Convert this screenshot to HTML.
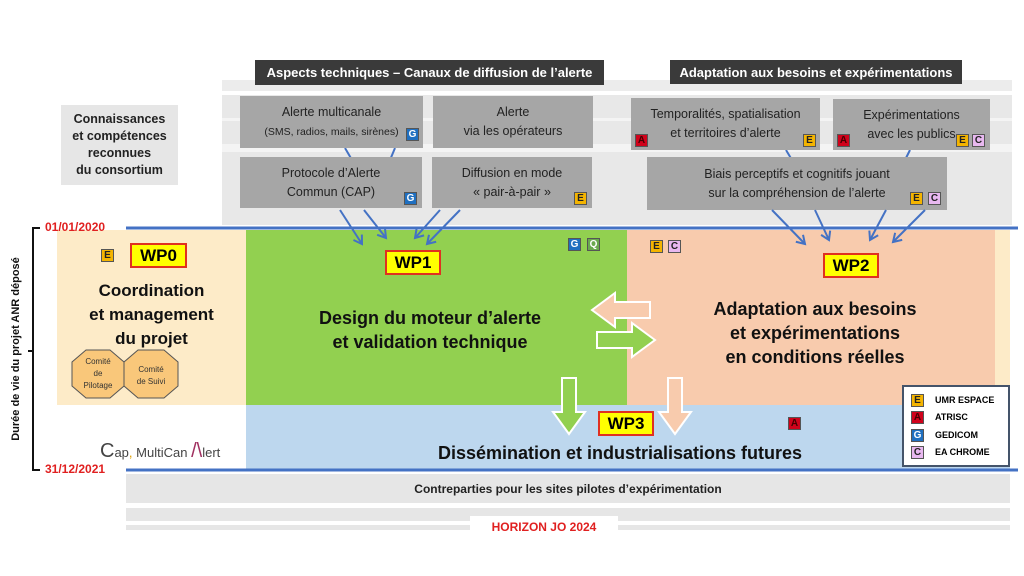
<!DOCTYPE html>
<html><head><meta charset="utf-8"><style>
body{margin:0;width:1024px;height:576px;background:#fff;position:relative;overflow:hidden;font-family:"Liberation Sans",sans-serif;}
div{position:absolute;box-sizing:border-box;}
.c{display:flex;align-items:center;justify-content:center;text-align:center;}
.c>p{margin:0;}
.g{background:#a6a6a6;color:#222;font-size:12.5px;line-height:19px;}
.b{width:13px;height:13px;font-size:10px;font-weight:bold;display:flex;align-items:center;justify-content:center;border:1px solid #555;}
.E{background:#f4b400;color:#222}.A{background:#d0021b;color:#400}.G{background:#1f6fc0;color:#fff}.C{background:#e8b8f0;color:#222}.Q{background:#6aa84f;color:#fff}
.wp{background:#ffff00;border:2px solid #e03020;font-weight:bold;font-size:17px;}
.big{font-weight:bold;color:#111;font-size:18px;line-height:24px;}
</style></head><body>
<div style="left:222px;top:80px;width:790px;height:11px;background:#ececec"></div>
<div style="left:222px;top:95px;width:790px;height:130px;background:#e8e8e8"></div>
<div style="left:222px;top:118px;width:790px;height:3px;background:#f4f4f4"></div>
<div style="left:222px;top:144px;width:790px;height:8px;background:#f4f4f4"></div>
<div class="c" style="left:255px;top:60px;width:349px;height:25px;background:#3a3a3a;color:#fff;font-weight:bold;font-size:13px">Aspects techniques – Canaux de diffusion de l’alerte</div>
<div class="c" style="left:670px;top:60px;width:292px;height:24px;background:#3a3a3a;color:#fff;font-weight:bold;font-size:13px">Adaptation aux besoins et expérimentations</div>
<div class="c" style="left:61px;top:105px;width:117px;height:80px;background:#e6e6e6;font-weight:bold;font-size:12.5px;line-height:17px;color:#222"><p>Connaissances<br>et compétences<br>reconnues<br>du consortium</p></div>

<svg style="position:absolute;left:0;top:0" width="1024" height="576">
<defs><marker id="m" markerUnits="userSpaceOnUse" markerWidth="10" markerHeight="10" refX="8" refY="5" orient="auto"><path d="M1,1 L8,5 L1,9" fill="none" stroke="#4472c4" stroke-width="2"/></marker></defs>
<g stroke="#4472c4" stroke-width="2" fill="none">
<line x1="345" y1="148" x2="352" y2="160"/><line x1="395" y1="148" x2="390" y2="160"/>
<line x1="786" y1="150" x2="792" y2="160"/><line x1="910" y1="150" x2="905" y2="160"/>
</g>
</svg>

<div class="c g" style="left:240px;top:96px;width:183px;height:52px"><p>Alerte multicanale<br><span style="font-size:10.5px">(SMS, radios, mails, sirènes)</span></p></div>
<div class="b G" style="left:406px;top:128px">G</div>
<div class="c g" style="left:433px;top:96px;width:160px;height:52px"><p>Alerte<br>via les opérateurs</p></div>
<div class="c g" style="left:240px;top:157px;width:182px;height:51px"><p>Protocole d’Alerte<br>Commun (CAP)</p></div>
<div class="b G" style="left:404px;top:192px">G</div>
<div class="c g" style="left:432px;top:157px;width:160px;height:51px"><p>Diffusion en mode<br>« pair-à-pair »</p></div>
<div class="b E" style="left:574px;top:192px">E</div>
<div class="c g" style="left:631px;top:98px;width:189px;height:52px"><p>Temporalités, spatialisation<br>et territoires d’alerte</p></div>
<div class="b A" style="left:635px;top:134px">A</div><div class="b E" style="left:803px;top:134px">E</div>
<div class="c g" style="left:833px;top:99px;width:157px;height:51px"><p>Expérimentations<br>avec les publics</p></div>
<div class="b A" style="left:837px;top:134px">A</div><div class="b E" style="left:956px;top:134px">E</div><div class="b C" style="left:972px;top:134px">C</div>
<div class="c g" style="left:647px;top:157px;width:300px;height:53px"><p>Biais perceptifs et cognitifs jouant<br>sur la compréhension de l’alerte</p></div>
<div class="b E" style="left:910px;top:192px">E</div><div class="b C" style="left:928px;top:192px">C</div>

<div style="left:57px;top:230px;width:189px;height:175px;background:#fdebc8"></div>
<div style="left:246px;top:230px;width:381px;height:175px;background:#92d050"></div>
<div style="left:627px;top:230px;width:368px;height:175px;background:#f8cbad"></div>
<div style="left:995px;top:230px;width:15px;height:175px;background:#fdebc8"></div>
<div style="left:246px;top:405px;width:764px;height:65px;background:#bdd7ee"></div>

<div class="b E" style="left:101px;top:249px">E</div>
<div class="c wp" style="left:130px;top:243px;width:57px;height:25px">WP0</div>
<div class="c big" style="left:57px;top:280px;width:189px;height:70px;font-size:17px"><p>Coordination<br>et management<br>du projet</p></div>
<div class="c wp" style="left:385px;top:250px;width:56px;height:25px">WP1</div>
<div class="b G" style="left:568px;top:238px">G</div><div class="b Q" style="left:587px;top:238px">Q</div>
<div class="c big" style="left:280px;top:305px;width:300px;height:50px"><p>Design du moteur d’alerte<br>et validation technique</p></div>
<div class="b E" style="left:650px;top:240px">E</div><div class="b C" style="left:668px;top:240px">C</div>
<div class="c wp" style="left:823px;top:253px;width:56px;height:25px">WP2</div>
<div class="c big" style="left:680px;top:296px;width:270px;height:74px"><p>Adaptation aux besoins<br>et expérimentations<br>en conditions réelles</p></div>
<div class="c wp" style="left:598px;top:411px;width:56px;height:25px">WP3</div>
<div class="b A" style="left:788px;top:417px">A</div>
<div class="c big" style="left:380px;top:440px;width:480px;height:26px">Dissémination et industrialisations futures</div>

<div style="left:100px;top:440px;font-size:13px;color:#444"><span style="font-size:20px">C</span>ap<span style="color:#e0a000">,</span> MultiCan <span style="font-size:20px;color:#a03060">/\</span>lert</div>

<svg style="position:absolute;left:0;top:0" width="1024" height="576">
<defs><marker id="m2" markerUnits="userSpaceOnUse" markerWidth="12" markerHeight="12" refX="9" refY="6" orient="auto"><path d="M1,1 L9,6 L1,11" fill="none" stroke="#4472c4" stroke-width="2"/></marker></defs>
<line x1="126" y1="228" x2="1018" y2="228" stroke="#4472c4" stroke-width="3"/>
<line x1="126" y1="470" x2="1018" y2="470" stroke="#4472c4" stroke-width="3"/>
<path d="M40,228 H33 V470 H40 M33,351 H28" stroke="#111" stroke-width="2" fill="none"/>
<g stroke="#4472c4" stroke-width="2" marker-end="url(#m2)" fill="none">
<line x1="340" y1="210" x2="362" y2="244"/><line x1="364" y1="210" x2="386" y2="238"/>
<line x1="440" y1="210" x2="415" y2="238"/><line x1="460" y1="210" x2="427" y2="244"/>
<line x1="772" y1="210" x2="805" y2="244"/><line x1="815" y1="210" x2="829" y2="240"/>
<line x1="886" y1="210" x2="870" y2="240"/><line x1="925" y1="210" x2="893" y2="242"/>
</g>
<polygon points="592,310 615,293 615,302 650,302 650,318 615,318 615,327" fill="#f8cbad" stroke="#fff" stroke-width="2"/>
<polygon points="655,340 632,323 632,332 597,332 597,348 632,348 632,357" fill="#92d050" stroke="#fff" stroke-width="2"/>
<polygon points="562,378 576,378 576,412 585,412 569,434 553,412 562,412" fill="#92d050" stroke="#fff" stroke-width="2"/>
<polygon points="668,378 682,378 682,412 691,412 675,434 659,412 668,412" fill="#f8cbad" stroke="#fff" stroke-width="2"/>
<polygon points="86,350 110,350 124,362 124,386 110,398 86,398 72,386 72,362" fill="#f9c77a" stroke="#555"/>
<polygon points="138,350 164,350 178,362 178,386 164,398 138,398 124,386 124,362" fill="#f9c77a" stroke="#555"/>
<text x="98" y="364" font-size="8" text-anchor="middle" fill="#333">Comité</text>
<text x="98" y="376" font-size="8" text-anchor="middle" fill="#333">de</text>
<text x="98" y="388" font-size="8" text-anchor="middle" fill="#333">Pilotage</text>
<text x="151" y="372" font-size="8" text-anchor="middle" fill="#333">Comité</text>
<text x="151" y="384" font-size="8" text-anchor="middle" fill="#333">de Suivi</text>
<text transform="translate(19,349) rotate(-90)" font-size="11" font-weight="bold" text-anchor="middle" fill="#111" font-family="Liberation Sans">Durée de vie du projet ANR déposé</text>
</svg>
<div style="left:45px;top:220px;color:#e02020;font-weight:bold;font-size:12px">01/01/2020</div>
<div style="left:45px;top:462px;color:#e02020;font-weight:bold;font-size:12px">31/12/2021</div>

<div style="left:902px;top:385px;width:108px;height:82px;background:#fff;border:2px solid #44546a"></div>
<div class="b E" style="left:911px;top:394px">E</div><div style="left:935px;top:395px;font-size:9px;font-weight:bold">UMR ESPACE</div>
<div class="b A" style="left:911px;top:411px">A</div><div style="left:935px;top:412px;font-size:9px;font-weight:bold">ATRISC</div>
<div class="b G" style="left:911px;top:429px">G</div><div style="left:935px;top:430px;font-size:9px;font-weight:bold">GEDICOM</div>
<div class="b C" style="left:911px;top:446px">C</div><div style="left:935px;top:447px;font-size:9px;font-weight:bold">EA CHROME</div>

<div class="c" style="left:126px;top:474px;width:884px;height:29px;background:#e6e6e6;font-weight:bold;font-size:12px;color:#222">Contreparties pour les sites pilotes d’expérimentation</div>
<div style="left:126px;top:508px;width:884px;height:13px;background:#e6e6e6"></div>
<div style="left:126px;top:525px;width:884px;height:5px;background:#e6e6e6"></div>
<div class="c" style="left:470px;top:516px;width:148px;height:21px;background:#fff;color:#e02020;font-weight:bold;font-size:12px">HORIZON JO 2024</div>
</body></html>
